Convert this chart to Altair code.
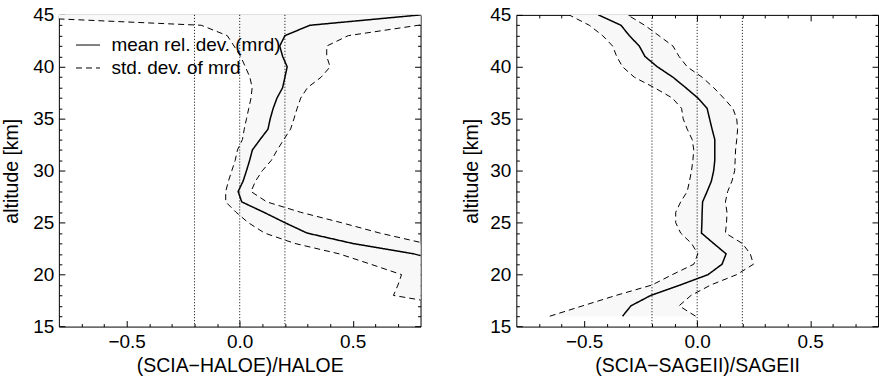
import altair as alt
import pandas as pd

FONT = "Liberation Sans"
FILL = "#f8f8f8"

# ---------------- data ----------------
# Left panel: (SCIA-HALOE)/HALOE, altitudes 17..45 km
ALT_L = list(range(17, 46))
MEAN_L = [None, None, None, None, 0.95, 0.77, 0.50, 0.298, 0.20, 0.107,
          0.009, -0.007, 0.015, 0.03, 0.044, 0.056, 0.09, 0.125, 0.135, 0.148,
          0.165, 0.19, 0.20, 0.21, 0.19, 0.177, 0.20, 0.31, 0.80]
LO_L = [0.95, 0.68, 0.70, 0.716, 0.58, 0.44, 0.244, 0.11, 0.038, -0.016,
        -0.062, -0.062, -0.05, -0.035, -0.02, -0.01, 0.012, 0.02, 0.03, 0.04,
        0.05, 0.055, 0.045, 0.025, 0.004, -0.025, -0.055, -0.17, -1.2]
HI_L = [1.2, 1.2, 1.2, 1.2, 1.15, 1.0, 0.82, 0.62, 0.45, 0.27,
        0.12, 0.05, 0.07, 0.10, 0.14, 0.166, 0.195, 0.225, 0.24, 0.254,
        0.27, 0.30, 0.36, 0.40, 0.385, 0.385, 0.48, 0.79, 1.05]

# Right panel: (SCIA-SAGEII)/SAGEII, altitudes 16..45 km
ALT_R = list(range(16, 46))
MEAN_R = [-0.33, -0.293, -0.205, -0.075, 0.048, 0.11, 0.128, 0.073, 0.019, 0.021,
          0.022, 0.024, 0.044, 0.063, 0.073, 0.078, 0.078, 0.078, 0.066, 0.055,
          0.044, 0.003, -0.051, -0.107, -0.176, -0.231, -0.256, -0.30, -0.337, -0.437]
LO_R = [-0.652, -0.506, -0.359, -0.20, -0.11, -0.015, 0.003, -0.025, -0.073, -0.095,
        -0.095, -0.073, -0.044, -0.034, -0.025, -0.019, -0.015, -0.022, -0.044, -0.062,
        -0.069, -0.11, -0.19, -0.278, -0.33, -0.356, -0.374, -0.418, -0.477, -0.567]
HI_R = [-0.007, -0.08, -0.027, 0.06, 0.175, 0.249, 0.235, 0.20, 0.125, 0.13,
        0.132, 0.125, 0.135, 0.154, 0.166, 0.168, 0.17, 0.175, 0.179, 0.175,
        0.158, 0.117, 0.073, 0.022, -0.044, -0.08, -0.107, -0.169, -0.232, -0.308]

REF_LINES = [-0.2, 0.0, 0.2]
X_MAJOR = [-0.5, 0.0, 0.5]
X_MINOR = [-0.7, -0.6, -0.4, -0.3, -0.2, -0.1, 0.1, 0.2, 0.3, 0.4, 0.6, 0.7]
Y_MAJOR = [15, 20, 25, 30, 35, 40, 45]
Y_MINOR = [v for v in range(16, 45) if v % 5 != 0]

SERIES = ["mean rel. dev. (mrd)", "std. dev. of mrd"]
XTITLES = ["(SCIA\u2212HALOE)/HALOE", "(SCIA\u2212SAGEII)/SAGEII"]

W = 362.5
H = 312.4


def tick_axis(orient, values, size):
    return alt.Axis(orient=orient, values=values, offset=-size, tickSize=size,
                    labels=False, domain=False, grid=False, title=None)


def panel(alts, mean, lo, hi, xtitle, ytitle_x, legend_x, ylabel_pad):
    df = pd.DataFrame({"alt": alts, "mean": mean, "lo": lo, "hi": hi})
    xs = alt.Scale(domain=[-0.8, 0.8], nice=False, zero=False)
    ys = alt.Scale(domain=[15, 45], nice=False, zero=False)
    dash = alt.Scale(domain=SERIES, range=[[1, 0], [6, 4]])
    leg = alt.Legend(orient="none", legendX=legend_x, legendY=17.7, title=None,
                     symbolType="stroke", symbolSize=576, symbolStrokeWidth=1,
                     symbolStrokeColor="black", labelFont=FONT, labelFontSize=19,
                     labelColor="black", labelOffset=11, padding=0, rowPadding=0,
                     labelLimit=400)
    base = alt.Chart(df)

    band = base.mark_area(orient="horizontal", color=FILL, clip=True).encode(
        y=alt.Y("alt:Q", scale=ys, axis=alt.Axis(
            orient="left", values=Y_MAJOR, offset=-6, tickSize=6, labelPadding=ylabel_pad,
            domain=False, grid=False, title="altitude [km]", titleX=ytitle_x,
            titleBaseline="alphabetic", titleAngle=-90)),
        x=alt.X("lo:Q", scale=xs, axis=alt.Axis(
            orient="bottom", values=X_MAJOR, format=".1f", offset=-6, tickSize=6,
            labelPadding=5.5, domain=False, grid=False, title=xtitle, titleY=51.3,
            titleBaseline="alphabetic")),
        x2="hi:Q",
    )

    rules = alt.Chart(pd.DataFrame({"ref": REF_LINES})).mark_rule(
        color="black", strokeDash=[1, 2], strokeWidth=1
    ).encode(x=alt.X("ref:Q", scale=xs, axis=tick_axis("bottom", X_MINOR, 3)))

    lower = base.transform_calculate(kind="'%s'" % SERIES[1]).mark_line(
        color="black", strokeWidth=1, clip=True
    ).encode(
        x=alt.X("lo:Q", scale=xs, axis=tick_axis("top", X_MAJOR, 6)),
        y=alt.Y("alt:Q", scale=ys, axis=tick_axis("left", Y_MINOR, 3)),
        order=alt.Order("alt:Q"),
        strokeDash=alt.StrokeDash("kind:N", scale=dash, legend=leg),
    )

    upper = base.transform_calculate(kind="'%s'" % SERIES[1]).mark_line(
        color="black", strokeWidth=1, clip=True
    ).encode(
        x=alt.X("hi:Q", scale=xs, axis=tick_axis("top", X_MINOR, 3)),
        y=alt.Y("alt:Q", scale=ys, axis=tick_axis("right", Y_MAJOR, 6)),
        order=alt.Order("alt:Q"),
        strokeDash=alt.StrokeDash("kind:N", scale=dash, legend=leg),
    )

    meanl = base.transform_filter("isValid(datum['mean'])").transform_calculate(
        kind="'%s'" % SERIES[0]).mark_line(
        color="black", strokeWidth=1.5, clip=True
    ).encode(
        x=alt.X("mean:Q", scale=xs, axis=None),
        y=alt.Y("alt:Q", scale=ys, axis=tick_axis("right", Y_MINOR, 3)),
        order=alt.Order("alt:Q"),
        strokeDash=alt.StrokeDash("kind:N", scale=dash, legend=leg),
    )

    return alt.layer(band, rules, lower, upper, meanl).resolve_axis(
        x="independent", y="independent"
    ).properties(width=W, height=H)


left = panel(ALT_L, MEAN_L, LO_L, HI_L, XTITLES[0], -47.8, 16.7, 5)
right = panel(ALT_R, MEAN_R, LO_R, HI_R, XTITLES[1], -44.5, 13.7, 5.5)

chart = alt.hconcat(left, right, spacing=95.5, bounds="flush").properties(
    padding={"left": 0, "top": 4.5, "right": 0, "bottom": 0},
    background="white",
).configure_axis(
    labelFont=FONT, labelFontSize=19, labelColor="black",
    titleFont=FONT, titleFontSize=19.5, titleFontWeight="normal", titleColor="black",
    tickColor="black", tickWidth=1, labelOverlap=False, labelFlush=False,
).configure_legend(
    labelFont=FONT, labelFontSize=19, labelColor="black",
).configure_view(stroke="black", strokeWidth=1)

chart.save("out.html", embed_options={"renderer": "svg", "actions": False})
